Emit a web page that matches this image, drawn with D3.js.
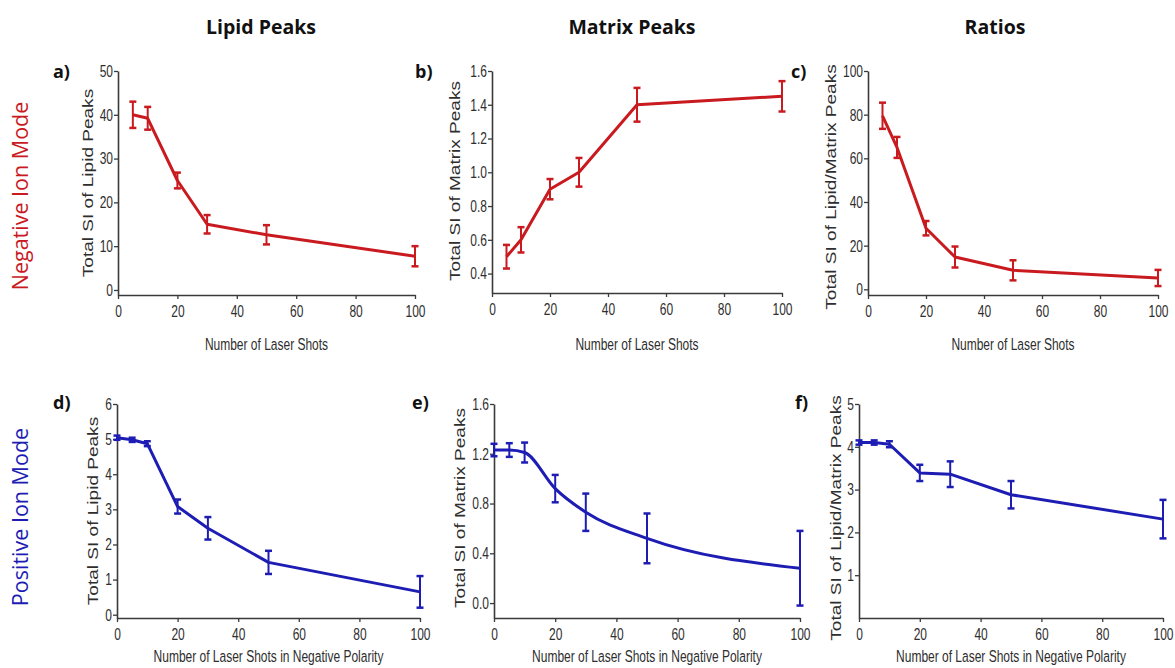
<!DOCTYPE html>
<html>
<head>
<meta charset="utf-8">
<script src="https://cdn.jsdelivr.net/npm/d3@7"></script>
<style>
  body { margin: 0; background: #fff; }
  svg { display: block; }
</style>
</head>
<body>
<svg id="chart" width="1175" height="668"></svg>
<script>
// data
const shotsNeg = [5, 10, 20, 30, 50, 100];
const shotsPos = [0, 5, 10, 20, 30, 50, 100];

const lipidNeg = [40, 39.2, 25, 15, 12.6, 7.7];
const lipidNegErr = [3, 2.6, 1.8, 2.1, 2.2, 2.3];
const matrixNeg = [0.5, 0.6, 0.9, 1.0, 1.4, 1.45];
const matrixNegErr = [0.07, 0.075, 0.06, 0.085, 0.1, 0.09];
const ratioNeg = [79.5, 65, 28, 14.8, 8.7, 5.2];
const ratioNegErr = [6, 4.8, 3.3, 4.8, 4.6, 3.7];

const lipidPos = [5.04, 4.98, 4.87, 3.08, 2.46, 1.49, 0.65];
const lipidPosErr = [0.06, 0.06, 0.07, 0.2, 0.32, 0.33, 0.45];
const matrixPos = [1.23, 1.23, 1.21, 0.92, 0.73, 0.52, 0.28];
const matrixPosErr = [0.05, 0.055, 0.08, 0.11, 0.15, 0.2, 0.3];
const ratioPos = [4.1, 4.1, 4.06, 3.39, 3.36, 2.88, 2.31];
const ratioPosErr = [0.05, 0.05, 0.07, 0.19, 0.3, 0.32, 0.45];

const xTicks = [0, 20, 40, 60, 80, 100];
const lipidNegTicks = [0, 10, 20, 30, 40, 50];
const matrixNegTicks = [0.4, 0.6, 0.8, 1.0, 1.2, 1.4, 1.6];
const ratioNegTicks = [0, 20, 40, 60, 80, 100];
const lipidPosTicks = [0, 1, 2, 3, 4, 5, 6];
const matrixPosTicks = [0.0, 0.4, 0.8, 1.2, 1.6];
const ratioPosTicks = [1, 2, 3, 4, 5];

const columnTitles = ["Lipid Peaks", "Matrix Peaks", "Ratios"];
const rowTitles = ["Negative Ion Mode", "Positive Ion Mode"];
const xTitleNeg = "Number of Laser Shots";
const xTitlePos = "Number of Laser Shots in Negative Polarity";
const yTitleLipid = "Total SI of Lipid Peaks";
const yTitleMatrix = "Total SI of Matrix Peaks";
const yTitleRatio = "Total SI of Lipid/Matrix Peaks";

const red = "#c91a1f";
const blue = "#1d1db4";
const axisColor = "#3a3a3a";

const svg = d3.select("#chart");

// panel layout (pixel boxes) -> data links
const panels = [
  {letter: "a)", lx: 53, ly: 78, l: 118, r: 415, t: 71, b: 295, lo: -1.15, hi: 50,
   xs: shotsNeg, ys: lipidNeg, es: lipidNegErr, ticks: lipidNegTicks, fmt: d3.format("d"),
   yTitle: yTitleLipid, tx: 93, ty: 183, xTitle: xTitleNeg, xty: 350, color: red, curve: d3.curveLinear},
  {letter: "b)", lx: 415, ly: 78, l: 492, r: 782, t: 71, b: 293, lo: 0.285, hi: 1.6,
   xs: shotsNeg, ys: matrixNeg, es: matrixNegErr, ticks: matrixNegTicks, fmt: d3.format(".1f"),
   yTitle: yTitleMatrix, tx: 460, ty: 181, xTitle: xTitleNeg, xty: 350, color: red, curve: d3.curveLinear},
  {letter: "c)", lx: 791, ly: 78, l: 868, r: 1158, t: 71, b: 295, lo: -2.6, hi: 100,
   xs: shotsNeg, ys: ratioNeg, es: ratioNegErr, ticks: ratioNegTicks, fmt: d3.format("d"),
   yTitle: yTitleRatio, tx: 836, ty: 187, xTitle: xTitleNeg, xty: 350, color: red, curve: d3.curveLinear},
  {letter: "d)", lx: 53, ly: 409, l: 117, r: 420, t: 404, b: 618, lo: -0.094, hi: 6,
   xs: shotsPos, ys: lipidPos, es: lipidPosErr, ticks: lipidPosTicks, fmt: d3.format("d"),
   yTitle: yTitleLipid, tx: 98, ty: 511, xTitle: xTitlePos, xty: 662, color: blue, curve: d3.curveLinear},
  {letter: "e)", lx: 412, ly: 409, l: 494, r: 800, t: 404, b: 618, lo: -0.12, hi: 1.6,
   xs: shotsPos, ys: matrixPos, es: matrixPosErr, ticks: matrixPosTicks, fmt: d3.format(".1f"),
   yTitle: yTitleMatrix, tx: 465, ty: 508, xTitle: xTitlePos, xty: 662, color: blue, curve: d3.curveMonotoneX},
  {letter: "f)", lx: 795, ly: 409, l: 859, r: 1163, t: 404, b: 618, lo: 0, hi: 5,
   xs: shotsPos, ys: ratioPos, es: ratioPosErr, ticks: ratioPosTicks, fmt: d3.format("d"),
   yTitle: yTitleRatio, tx: 841, ty: 518, xTitle: xTitlePos, xty: 662, color: blue, curve: d3.curveLinear}
];

const stretch = 1.4;
const plain = "'Liberation Sans', Arial, sans-serif";
const heading = "'Open Sans', Lato, sans-serif";

panels.forEach(p => {
  const x = d3.scaleLinear().domain([0, 100]).range([p.l, p.r]);
  const y = d3.scaleLinear().domain([p.lo, p.hi]).range([p.b, p.t]);
  const g = svg.append("g");

  // axes
  const xAxis = g.append("g")
      .attr("transform", `translate(0,${p.b})`)
      .call(d3.axisBottom(x).tickValues(xTicks).tickSize(4).tickSizeOuter(0).tickPadding(4));
  const yAxis = g.append("g")
      .attr("transform", `translate(${p.l},0)`)
      .call(d3.axisLeft(y).tickValues(p.ticks).tickFormat(p.fmt).tickSize(4).tickSizeOuter(0).tickPadding(1));

  [xAxis, yAxis].forEach(a => {
    a.select(".domain").attr("stroke", axisColor).attr("stroke-width", 1.6);
    a.selectAll(".tick line").attr("stroke", axisColor).attr("stroke-width", 1.3);
    a.selectAll("text")
        .attr("font-family", plain)
        .attr("font-size", 12)
        .attr("fill", "#2e2e2e");
  });
  // the figure's text is stretched vertically
  xAxis.selectAll("text").attr("transform", `scale(1,${stretch})`).attr("y", 7.5);
  yAxis.selectAll("text").attr("transform", `scale(1,${stretch})`);

  // line
  const pts = p.xs.map((v, i) => ({x: v, y: p.ys[i], e: p.es[i]}));
  g.append("path")
      .datum(pts)
      .attr("fill", "none")
      .attr("stroke", p.color)
      .attr("stroke-width", 3)
      .attr("stroke-linejoin", "round")
      .attr("d", d3.line().x(d => x(d.x)).y(d => y(d.y)).curve(p.curve));

  // error bars
  const eb = g.selectAll(".err").data(pts).enter().append("g").attr("class", "err")
      .attr("stroke", p.color).attr("stroke-width", 2);
  eb.append("line")
      .attr("x1", d => x(d.x)).attr("x2", d => x(d.x))
      .attr("y1", d => y(d.y + d.e)).attr("y2", d => y(d.y - d.e));
  eb.append("line")
      .attr("x1", d => x(d.x) - 3.5).attr("x2", d => x(d.x) + 3.5)
      .attr("y1", d => y(d.y + d.e)).attr("y2", d => y(d.y + d.e)).attr("stroke-width", 2.5);
  eb.append("line")
      .attr("x1", d => x(d.x) - 3.5).attr("x2", d => x(d.x) + 3.5)
      .attr("y1", d => y(d.y - d.e)).attr("y2", d => y(d.y - d.e)).attr("stroke-width", 2.5);

  // axis titles
  g.append("text")
      .attr("transform", `translate(${(p.l + p.r) / 2},${p.xty}) scale(1,${stretch})`)
      .attr("text-anchor", "middle")
      .attr("font-family", plain)
      .attr("font-size", 12)
      .attr("fill", "#2e2e2e")
      .text(p.xTitle);
  g.append("text")
      .attr("transform", `translate(${p.tx},${p.ty}) rotate(-90) scale(1.36,1)`)
      .attr("text-anchor", "middle")
      .attr("font-family", plain)
      .attr("font-size", 14)
      .attr("fill", "#2e2e2e")
      .text(p.yTitle);

  // panel letter
  g.append("text")
      .attr("x", p.lx).attr("y", p.ly)
      .attr("font-family", heading)
      .attr("font-weight", "bold")
      .attr("font-size", 18)
      .attr("fill", "#111")
      .text(p.letter);
});

// column titles
const colCenters = [261, 632, 995];
svg.selectAll(".coltitle").data(columnTitles).enter().append("text")
    .attr("class", "coltitle")
    .attr("x", (d, i) => colCenters[i]).attr("y", 34)
    .attr("text-anchor", "middle")
    .attr("font-family", heading)
    .attr("font-weight", "bold")
    .attr("font-size", 19.5)
    .attr("fill", "#111")
    .text(d => d);

// row titles
const rowCenters = [196, 517];
const rowColors = [red, blue];
svg.selectAll(".rowtitle").data(rowTitles).enter().append("text")
    .attr("class", "rowtitle")
    .attr("transform", (d, i) => `translate(28,${rowCenters[i]}) rotate(-90)`)
    .attr("text-anchor", "middle")
    .attr("font-family", heading)
    .attr("font-size", 21.5)
    .attr("fill", (d, i) => rowColors[i])
    .text(d => d);
</script>
</body>
</html>
